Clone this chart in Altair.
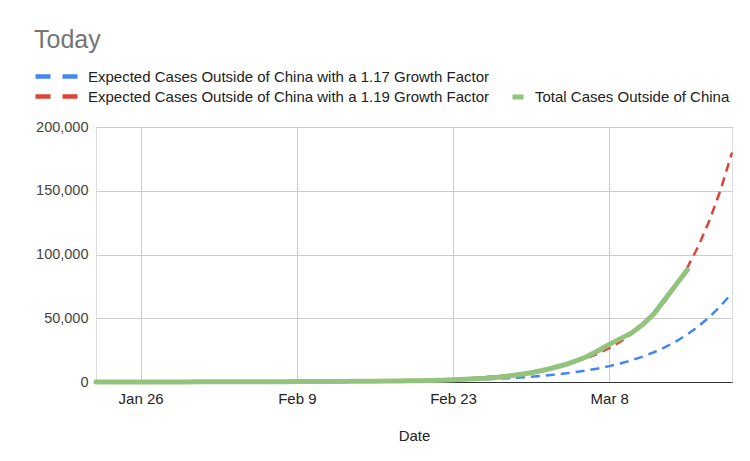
import altair as alt
import pandas as pd

start_date = "2020-01-22"
n_days = 58
dates = pd.date_range(start_date, periods=n_days, freq="D").strftime("%Y-%m-%d").tolist()

blue_name = "Expected Cases Outside of China with a 1.17 Growth Factor"
red_name = "Expected Cases Outside of China with a 1.19 Growth Factor"
green_name = "Total Cases Outside of China"

blue_vals = [9, 11, 13, 15, 17, 20, 23, 27, 32, 38,
             44, 51, 60, 70, 82, 96, 112, 131, 154, 180, 210, 246, 288, 336, 394,
             461, 539, 630, 738, 863, 1010, 1181, 1382, 1617, 1892, 2213, 2589, 3030, 3545,
             4147, 4852, 5677, 6642, 7771, 9092, 10638, 12447, 14563, 17038, 19935,
             23324, 27289, 31928, 37356, 43706, 51136, 59829, 70000]
red_vals = [9, 11, 13, 15, 18, 22, 26, 30, 36, 43,
            51, 60, 72, 85, 102, 121, 144, 171, 204, 242, 288, 343, 408, 486, 578,
            688, 819, 975, 1160, 1380, 1643, 1955, 2326, 2768, 3294, 3920, 4664, 5551, 6605,
            7860, 9354, 11131, 13246, 15762, 18757, 22321, 26562, 31609, 37614, 44761,
            53266, 63386, 75429, 89760, 106815, 127110, 151261, 180000]
green_vals = [9, 14, 22, 30, 42, 50, 60, 70, 90, 115,
              130, 150, 155, 180, 210, 230, 270, 290, 300, 320, 390, 440, 450, 500, 520,
              680, 690, 800, 900, 1070, 1200, 1400, 1770, 2070, 2460, 2930, 3660, 4690, 5950,
              7200, 9000, 11200, 13500, 16500, 20000, 24500, 29500, 34000, 38500, 45000,
              53500, 65000, 76500, 88000]

x_ticks = ["2020-01-26", "2020-02-09", "2020-02-23", "2020-03-08"]
y_ticks = [0, 50000, 100000, 150000, 200000]

exp_df = pd.DataFrame({
    "date": dates * 2,
    "value": blue_vals + red_vals,
    "series": [blue_name] * n_days + [red_name] * n_days,
})
tot_df = pd.DataFrame({
    "date": dates[:len(green_vals)],
    "value": green_vals,
    "series": [green_name] * len(green_vals),
})

FONT = "Liberation Sans"

x_enc = alt.X(
    "date:T",
    title="Date",
    scale=alt.Scale(domain=[dates[0], dates[-1]]),
    axis=alt.Axis(
        values=x_ticks, format="%b %-d", grid=True, gridColor="#cccccc",
        ticks=False, domainColor="#333333", labelPadding=9, labelFontSize=15,
        labelColor="#222222", titleFontSize=15, titleColor="#222222",
        titleFontWeight="normal", titlePadding=22, labelFont=FONT, titleFont=FONT,
    ),
)
y_enc = alt.Y(
    "value:Q",
    title=None,
    scale=alt.Scale(domain=[0, 200000]),
    axis=alt.Axis(
        values=y_ticks, format=",d", grid=True, gridColor="#cccccc", domain=False,
        ticks=False, labelPadding=8, labelFontSize=14.5, labelColor="#444444",
        labelFont=FONT,
    ),
)

expected = alt.Chart(exp_df).mark_line(strokeWidth=2.5, strokeDash=[9, 6]).encode(
    x=x_enc,
    y=y_enc,
    color=alt.Color(
        "series:N",
        scale=alt.Scale(domain=[blue_name, red_name], range=["#4285f4", "#db4437"]),
        legend=alt.Legend(
            title=None, orient="none", legendX=-49, legendY=-60, direction="vertical",
            symbolType="M-3,0H3", symbolSize=196, symbolStrokeWidth=4.5,
            symbolDash=[15, 12], labelFontSize=15, labelColor="#222222",
            labelLimit=0, rowPadding=1, labelOffset=22, labelFont=FONT,
        ),
    ),
)

total = alt.Chart(tot_df).mark_line(strokeWidth=5, strokeCap="round").encode(
    x=x_enc,
    y=y_enc,
    color=alt.Color(
        "series:N",
        scale=alt.Scale(domain=[green_name], range=["#93c47d"]),
        legend=alt.Legend(
            title=None, orient="none", legendX=414, legendY=-38,
            symbolType="stroke", symbolSize=121, symbolStrokeWidth=5,
            labelFontSize=15, labelColor="#222222", labelLimit=0, labelOffset=9,
            labelFont=FONT,
        ),
    ),
)

chart = alt.layer(expected, total).resolve_scale(color="independent").resolve_legend(
    color="independent"
).properties(
    width=636,
    height=255,
    autosize=alt.AutoSizeParams(type="none"),
    padding={"left": 88, "top": 119, "right": 10, "bottom": 72},
    title=alt.TitleParams(
        "Today", anchor="start", frame="group", fontSize=25, fontWeight="normal",
        color="#757575", font=FONT, dx=-62, dy=-10,
    ),
).configure_view(stroke=None).configure(background="white")

chart.save("out.html", embed_options={"renderer": "svg", "actions": False})
